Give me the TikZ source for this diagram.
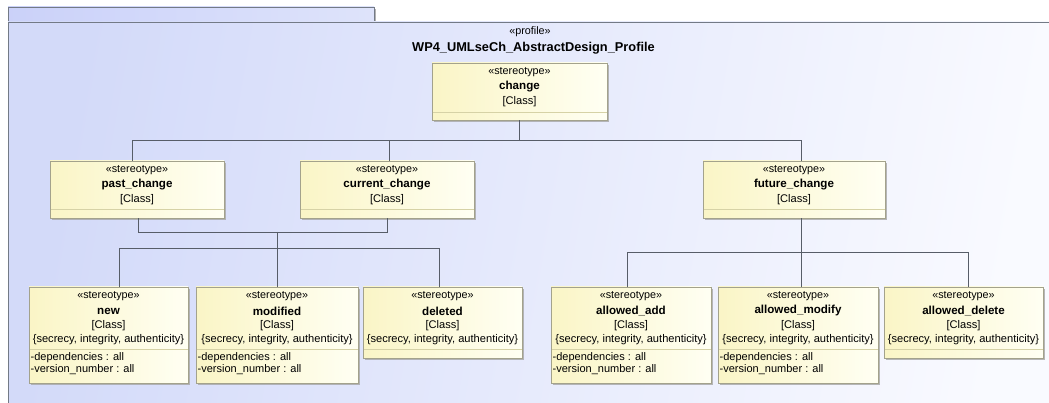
\documentclass[tikz,border=0pt]{standalone}
\usepackage{fontspec}
\setmainfont{Liberation Sans}
\usetikzlibrary{shadows}
\definecolor{frameL}{HTML}{D3DAF9}
\definecolor{frameR}{HTML}{F9FAFF}
\definecolor{frameline}{HTML}{737A86}
\definecolor{boxL}{HTML}{FAF5C6}
\definecolor{boxR}{HTML}{FFFFF3}
\definecolor{boxline}{HTML}{A3A28C}
\definecolor{sepcol}{HTML}{D6D2A6}
\definecolor{wire}{HTML}{575D68}
\tikzset{
  ubox/.style={draw=boxline, line width=0.8pt, left color=boxL, right color=boxR,
    inner sep=0pt, rectangle,
    drop shadow={shadow xshift=2pt, shadow yshift=-2pt, fill=black!35, opacity=0.8}},
  stereo/.style={inner sep=0pt, font=\fontsize{10.8}{12}\selectfont},
  sname/.style={inner sep=0pt, font=\fontsize{11.6}{13}\selectfont\bfseries},
  body/.style={inner sep=0pt, font=\fontsize{11.1}{12}\selectfont},
  attr/.style={inner sep=0pt, anchor=west, font=\fontsize{11}{12}\selectfont},
  sepline/.style={draw=sepcol, line width=0.8pt},
  conn/.style={draw=wire, line width=0.8pt},
}
% stereotype box: name, left, top, right, bottom, title, separator y
\newcommand\umlbox[7]{%
  \pgfmathsetmacro\bw{#4-#2}\pgfmathsetmacro\bh{#5-#3}%
  \pgfmathsetmacro\bx{(#2+#4)/2}\pgfmathsetmacro\by{(#3+#5)/2}%
  \node[ubox, minimum width=\bw pt, minimum height=\bh pt] (#1) at (\bx,\by) {};
  \node[stereo] (#1-st) at (\bx,#3+9.5) {«stereotype»};
  \node[sname] (#1-nm) at (\bx,#3+24) {#6};
  \node[body] (#1-cl) at (\bx,#3+38.5) {[Class]};
  \draw[sepline] (#2+0.5,#7) -- (#4-0.5,#7);
}
% constraint line of a tagged stereotype
\newcommand\tags[3]{%
  \node[body] (#1-tg) at (#2,#3+53) {\{secrecy, integrity, authenticity\}};
}
% two tag definitions
\newcommand\attrs[3]{%
  \node[attr] (#1-a1) at (#2+1.5,#3+71) {-dependencies : all};
  \node[attr] (#1-a2) at (#2+1.5,#3+83) {-version\_number : all};
}
\begin{document}
\begin{tikzpicture}[x=1pt,y=-1pt]
\useasboundingbox (0,0) rectangle (1049,403);
\clip (0,0) rectangle (1049,403);
\fill[white] (0,0) rectangle (1049,403);

% package frame with its name tab
\fill[black!30] (374,9) rectangle (376,22);
\shade[left color=frameL!96!blue, right color=frameL!75!white] (8,7) rectangle (374,22);
\draw[frameline, line width=0.9pt] (8,22) -- (8,7) -- (374,7) -- (374,22);
\shade[left color=frameL, right color=frameR, shading angle=80] (8,22) rectangle (1060,420);
\draw[frameline, line width=0.9pt] (8,420) -- (8,22) -- (1060,22);

\node[stereo] (pkg-st) at (530,32) {«profile»};
\node[inner sep=0pt, font=\fontsize{12.8}{15}\selectfont\bfseries] (pkg-nm) at (533.5,48) {WP4\_UMLseCh\_AbstractDesign\_Profile};

% stereotypes
\umlbox{change}{432}{63}{607}{120}{change}{112}
\umlbox{past}{50}{161}{224}{218}{past\_change}{209}
\umlbox{cur}{300}{161}{474}{218}{current\_change}{209}
\umlbox{fut}{703}{161}{885}{218}{future\_change}{209}

\umlbox{new}{29}{287}{188}{383}{new}{349}
\tags{new}{108.5}{287}\attrs{new}{29}{287}
\umlbox{mod}{196}{287}{358}{383}{modified}{349}
\tags{mod}{277}{287}\attrs{mod}{196}{287}
\umlbox{del}{363}{287}{522}{358}{deleted}{349}
\tags{del}{442.5}{287}
\umlbox{aadd}{551}{287}{711}{383}{allowed\_add}{349}
\tags{aadd}{631}{287}\attrs{aadd}{551}{287}
\umlbox{amod}{718}{287}{878}{383}{allowed\_modify}{349}
\tags{amod}{798}{287}\attrs{amod}{718}{287}
\umlbox{adel}{884}{287}{1043}{358}{allowed\_delete}{349}
\tags{adel}{963.5}{287}

% tree connectors
\coordinate (j1) at (519.5,140);
\coordinate (j2) at (277,232);
\coordinate (j3) at (277,248);
\coordinate (j4) at (801,252);
\draw[conn] (change.south) -- (j1);
\draw[conn] ([xshift=-5pt]past.north) |- (j1);
\draw[conn] ([xshift=2pt]cur.north) |- (j1);
\draw[conn] ([xshift=7pt]fut.north) |- (j1);
\draw[conn] ([xshift=1pt]past.south) |- (j2);
\draw[conn] (cur.south) |- (j2);
\draw[conn] (j2) -- (j3);
\draw[conn] ([xshift=10.5pt]new.north) |- (j3);
\draw[conn] (mod.north) -- (j3);
\draw[conn] ([xshift=-3.5pt]del.north) |- (j3);
\draw[conn] ([xshift=7pt]fut.south) -- (j4);
\draw[conn] ([xshift=-4pt]aadd.north) |- (j4);
\draw[conn] ([xshift=3pt]amod.north) -- (j4);
\draw[conn] ([xshift=4.5pt]adel.north) |- (j4);
\end{tikzpicture}
\end{document}
